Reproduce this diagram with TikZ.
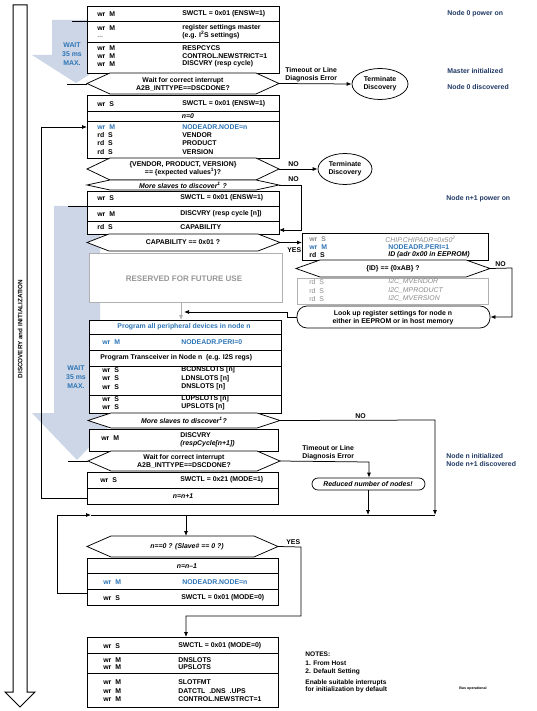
\documentclass[tikz,border=0pt]{standalone}
\usepackage{fontspec}
\setmainfont{Liberation Sans}
\usetikzlibrary{arrows.meta,fit,shapes.geometric}
\definecolor{waitbg}{HTML}{CDD6E6}
\definecolor{tblue}{HTML}{2E75B6}
\definecolor{navy}{HTML}{1F3864}
\definecolor{gtext}{HTML}{8C8C8C}
\definecolor{gline}{HTML}{B0B0B0}
\newcommand{\dfs}{\fontsize{6.9}{8}\selectfont}
\newcommand{\hexa}[6]{%
  \draw[fill=white] (#2,{(#4+#5)/2}) -- (#2+#6,#4) -- (#3-#6,#4) -- (#3,{(#4+#5)/2}) -- (#3-#6,#5) -- (#2+#6,#5) -- cycle;
  \coordinate (#1-w) at (#2,{(#4+#5)/2});
  \coordinate (#1-e) at (#3,{(#4+#5)/2});}
\newcommand{\bxx}[6][]{\node[draw,fill=white,inner sep=0pt,outer sep=0pt,fit={(#3,#4) (#5,#6)},#1] (#2) {};}
\tikzset{
  tx/.style={font=\dfs\bfseries, inner sep=0pt, anchor=west},
  tc/.style={font=\dfs\bfseries, inner sep=0pt, align=center},
  ti/.style={font=\dfs\bfseries\itshape, inner sep=0pt, align=center},
  blu/.style={text=tblue},
  gry/.style={text=gtext},
  lbl/.style={font=\dfs\bfseries, text=navy, inner sep=0pt, anchor=west},
  arr/.style={-{Latex[length=5pt,width=4pt]}},
  wt/.style={font=\fontsize{6.9}{9}\selectfont\bfseries, text=tblue, inner sep=0pt, align=center},
}
\begin{document}
\begin{tikzpicture}[x=1pt,y=-1pt,line width=0.75pt]
\useasboundingbox (0,0) rectangle (536,711);
\fill[white] (0,0) rectangle (536,711);

% wait shading
\fill[waitbg] (52,20) -- (100,20) -- (100,55) -- (120,55) -- (76,83) -- (32,55) -- (52,55) -- cycle;
\fill[waitbg] (54,206) -- (100,206) -- (100,413) -- (122,413) -- (77,460) -- (32,413) -- (54,413) -- cycle;
\node[wt] (wait1) at (72,54) {WAIT\\35 ms\\MAX.};
\node[wt] (wait2) at (76,377) {WAIT\\35 ms\\MAX.};
\draw (72,21) -- (87,21);
\draw (67,84) -- (87,84);
\draw (68,206) -- (87,206);
\draw (68,461) -- (88,461);

% big left arrow
\draw[line width=1pt] (13,5) -- (27,5) -- (27,692) -- (35,692) -- (20,707) -- (5,692) -- (13,692) -- cycle;
\node[font=\fontsize{6.3}{7}\selectfont\bfseries, rotate=90, inner sep=0pt] (disc) at (20,329) {DISCOVERY and INITIALIZATION};

% ---- Box A
\bxx{A}{87}{6}{279}{73}
\draw (87,21) -- (279,21);
\draw (87,42) -- (279,42);
\node[tx] (a1) at (97,14) {wr\ \ M};
\node[tx] (a2) at (182,14) {SWCTL = 0x01 (ENSW=1)};
\node[tx] (a3) at (97,28) {wr\ \ M};
\node[tx,gry] (a3b) at (97,37) {...};
\node[tx] (a4) at (182,28) {register settings master};
\node[tx] (a5) at (182,35.5) {(e.g. I\textsuperscript{2}S settings)};
\node[tx] (a6) at (97,48) {wr\ \ M};
\node[tx] (a7) at (182,48) {RESPCYCS};
\node[tx] (a8) at (97,56) {wr\ \ M};
\node[tx] (a9) at (182,56) {CONTROL.NEWSTRICT=1};
\node[tx] (a10) at (97,64) {wr\ \ M};
\node[tx] (a11) at (182,64) {DISCVRY (resp cycle)};

\hexa{H1}{87}{279}{73}{94}{23}
\node[tc] (h1t) at (183,84) {Wait for correct interrupt\\A2B\_INTTYPE==DSCDONE?};
\node[ellipse,draw,minimum width=56,minimum height=31,inner sep=0pt,font=\dfs\bfseries,align=center] (T1) at (380,84) {Terminate\\Discovery};
\draw[arr] (H1-e) -- (T1.west);
\node[tx,align=left] (to1) at (285,75) {Timeout or Line\\Diagnosis Error};

% right labels
\node[lbl] (l1) at (447,14) {Node 0 power on};
\node[lbl] (l2) at (447,71) {Master initialized};
\node[lbl] (l3) at (447,87) {Node 0 discovered};
\node[lbl] (l4) at (446,199) {Node n+1 power on};
\node[lbl] (l5) at (446,456) {Node n initialized};
\node[lbl] (l6) at (446,464) {Node n+1 discovered};

% ---- Box B
\bxx{B}{87}{95}{279}{158}
\draw (87,111) -- (279,111);
\draw (87,121) -- (279,121);
\node[tx] (b1) at (97,104) {wr\ \ S};
\node[tx] (b2) at (182,104) {SWCTL = 0x01 (ENSW=1)};
\node[ti] (b3) at (188,116) {n=0};
\node[tx,blu] (b4) at (97,127) {wr\ \ M};
\node[tx,blu] (b5) at (182,127) {NODEADR.NODE=n};
\node[tx] (b6) at (97,135.5) {rd\ \ S};
\node[tx] (b7) at (182,135.5) {VENDOR};
\node[tx] (b8) at (97,143.5) {rd\ \ S};
\node[tx] (b9) at (182,143.5) {PRODUCT};
\node[tx] (b10) at (97,152) {rd\ \ S};
\node[tx] (b11) at (182,152) {VERSION};

\hexa{H2}{87}{279}{158}{180}{23}
\node[tc] (h2t) at (183,169) {\{VENDOR, PRODUCT, VERSION\}\\== \{expected values\textsuperscript{1}\}?};
\node[ellipse,draw,minimum width=54,minimum height=31,inner sep=0pt,font=\dfs\bfseries,align=center] (T2) at (345,169) {Terminate\\Discovery};
\draw[arr] (H2-e) -- (T2.west);
\node[tx] (no1) at (288,164) {NO};

\hexa{H3}{87}{279}{180}{190}{23}
\node[ti] (h3t) at (183,185) {More slaves to discover\textsuperscript{1} ?};
\node[tx] (no2) at (288,179) {NO};

% ---- Box C
\bxx{C}{87}{191}{279}{234}
\draw (87,206) -- (279,206);
\draw (87,221) -- (279,221);
\node[tx] (c1) at (97,198) {wr\ \ S};
\node[tx] (c2) at (180,198) {SWCTL = 0x01 (ENSW=1)};
\node[tx] (c3) at (97,214) {wr\ \ M};
\node[tx] (c4) at (180,214) {DISCVRY (resp cycle [n])};
\node[tx] (c5) at (97,227) {rd\ \ S};
\node[tx] (c6) at (180,227) {CAPABILITY};
\coordinate (Cin) at (279,230);
\coordinate (n2a) at (301,185);
\coordinate (n2b) at (301,230);
\draw[arr] (H3-e) -- (n2a) -- (n2b) -- (Cin);

\hexa{H4}{87}{280}{234}{251}{22}
\node[tc] (h4t) at (183,242.5) {CAPABILITY == 0x01 ?};
\node[tx] (yes1) at (287,250) {YES};

% RESERVED
\node[draw=gline,fill=white,inner sep=0pt,fit={(89,253) (282,302)}] (RES) {};
\node[font=\fontsize{8}{9}\selectfont\bfseries,text=gtext!90,inner sep=0pt] (rest) at (184,279) {RESERVED FOR FUTURE USE};

% ---- Right side boxes
\bxx{R1}{302}{233}{488}{260}
\draw[arr] (H4-e) -- (R1.west |- H4-e);
\node[tx,gry] (r1) at (309,239) {wr\ \ S};
\node[tx,gry,font=\dfs\itshape] (r2) at (385,239) {CHIP.CHIPADR=0x50\textsuperscript{2}};
\node[tx,blu] (r3) at (309,247) {wr\ \ M};
\node[tx,blu] (r4) at (388,247) {NODEADR.PERI=1};
\node[tx] (r5) at (309,255) {rd\ \ S};
\node[tx,font=\dfs\bfseries\itshape] (r6) at (388,255) {ID (adr 0x00 in EEPROM)};

\hexa{H5}{296}{490}{260}{277}{24}
\node[tc] (h5t) at (393,269) {\{ID\} == \{0xAB\} ?};
\node[tx] (no3) at (495,264) {NO};

\node[draw=gline,fill=white,inner sep=0pt,fit={(297,278) (488,304)}] (R2) {};
\node[tx,gry,font=\dfs] (q1) at (309,282) {rd\ \ S};
\node[tx,gry,font=\dfs\itshape] (q2) at (388,282) {I2C\_MVENDOR};
\node[tx,gry,font=\dfs] (q3) at (309,291) {rd\ \ S};
\node[tx,gry,font=\dfs\itshape] (q4) at (388,291) {I2C\_MPRODUCT};
\node[tx,gry,font=\dfs] (q5) at (309,299) {rd\ \ S};
\node[tx,gry,font=\dfs\itshape] (q6) at (388,299) {I2C\_MVERSION};

\node[draw,fill=white,rounded corners=10pt,inner sep=0pt,fit={(297,306) (490,328)}] (R3) {};
\node[tc] (r3t) at (393,317.5) {Look up register settings for node n\\either in EEPROM or in host memory};
\coordinate (n3a) at (512,268);
\coordinate (n3b) at (512,317);
\draw[arr] (H5-e) -- (n3a) -- (n3b) -- (R3.east |- n3b);
\coordinate (k1) at (287,317);
\coordinate (k2) at (287,312);
\coordinate (k3) at (184,312);
\draw[arr] (R3.west |- k1) -- (k1) -- (k2) -- (k3);

% gray arrow
\coordinate (g1) at (181,302);
\coordinate (g2) at (181,320);
\draw[arr,draw=gline] (g1) -- (g2);

% ---- Program box
\bxx{P}{89}{320}{281}{413}
\draw (89,334) -- (281,334);
\draw (89,350) -- (281,350);
\draw (89,366) -- (281,366);
\draw (89,395) -- (281,395);
\node[tc,blu] (p1) at (184,327) {Program all peripheral devices in node n};
\node[tx,blu] (p2) at (102,342) {wr\ \ M};
\node[tx,blu] (p3) at (181,342) {NODEADR.PERI=0};
\node[tx] (p4) at (100,358) {Program Transceiver in Node n\ \ (e.g. I2S regs)};
\node[tx] (p5) at (102,370) {wr\ \ S};
\node[tx] (p6) at (181,370) {BCDNSLOTS [n]};
\node[tx] (p7) at (102,378.5) {wr\ \ S};
\node[tx] (p8) at (181,378.5) {LDNSLOTS [n]};
\node[tx] (p9) at (102,387) {wr\ \ S};
\node[tx] (p10) at (181,387) {DNSLOTS [n]};
\node[tx] (p11) at (102,399) {wr\ \ S};
\node[tx] (p12) at (181,399) {LUPSLOTS [n]};
\node[tx] (p13) at (102,407) {wr\ \ S};
\node[tx] (p14) at (181,407) {UPSLOTS [n]};

\hexa{H6}{88}{280}{413}{428}{23}
\node[ti] (h6t) at (184,420) {More slaves to discover\textsuperscript{1}?};
\node[tx] (no4) at (355,416) {NO};

% ---- Box D
\bxx{D}{89}{429}{278}{451}
\node[tx] (d1) at (101,438) {wr\ \ M};
\node[tx] (d2) at (180,435) {DISCVRY};
\node[tx,font=\dfs\bfseries\itshape] (d3) at (180,444) {(respCycle[n+1])};

\hexa{H7}{88}{280}{451}{471}{23}
\node[tc] (h7t) at (184,461.5) {Wait for correct interrupt\\A2B\_INTTYPE==DSCDONE?};
\node[tx,align=left] (to2) at (302,453) {Timeout or Line\\Diagnosis Error};

\node[draw,fill=white,rounded corners=6pt,inner sep=0pt,fit={(312,478) (425,490)}] (RED) {};
\node[ti] (redt) at (368,484) {Reduced number of nodes!};
\coordinate (m1) at (369,462);
\draw[arr] (H7-e) -- (m1) -- (RED.north -| m1);

% ---- Box E
\bxx{E}{87}{472}{278}{504}
\draw (87,488) -- (278,488);
\node[tx] (e1) at (100,480) {wr\ \ S};
\node[tx] (e2) at (180,480) {SWCTL = 0x21 (MODE=1)};
\node[ti] (e3) at (183,496) {n=n+1};

% loop back to NODEADR
\coordinate (lp1) at (87,498);
\coordinate (lp2) at (41,498);
\coordinate (lp3) at (41,127);
\coordinate (lp4) at (87,127);
\draw[arr] (lp1) -- (lp2) -- (lp3) -- (lp4);

% join line
\coordinate (j0) at (57,515);
\coordinate (j1) at (91,515);
\coordinate (j2) at (435,515);
\coordinate (j3) at (186,515);
\coordinate (jr) at (368,515);
\coordinate (n4a) at (435,420);
\coordinate (h8top) at (186,536);
\draw[arr] (H6-e) -- (n4a) -- (j2);
\draw[arr] (RED.south -| jr) -- (jr);
\draw (j1) -- (j2);

\hexa{H8}{87}{278}{536}{557}{24}
\node[ti] (h8t) at (187,547) {n==0 ? (Slave\# == 0 ?)};
\node[tx] (yes2) at (286,542) {YES};
\draw[arr] (j3) -- (h8top);

% ---- Box F
\bxx{F}{87}{558}{278}{605}
\draw (87,573) -- (278,573);
\draw (87,589) -- (278,589);
\node[ti] (f1) at (187,566) {n=n\textendash 1};
\node[tx,blu] (f2) at (103,582) {wr\ \ M};
\node[tx,blu] (f3) at (182,582) {NODEADR.NODE=n};
\node[tx] (f4) at (103,598) {wr\ \ S};
\node[tx] (f5) at (181,598) {SWCTL = 0x01 (MODE=0)};
\coordinate (s1) at (87,593);
\coordinate (s2) at (57,593);
\draw[arr] (s1) -- (s2) -- (j0) -- (j1);

% ---- Box G
\bxx{G}{87}{637}{278}{707}
\draw (87,653) -- (278,653);
\draw (87,673) -- (278,673);
\node[tx] (g1t) at (103,646) {wr\ \ S};
\node[tx] (g2t) at (178,646) {SWCTL = 0x01 (MODE=0)};
\node[tx] (g3t) at (103,660) {wr\ \ M};
\node[tx] (g4t) at (178,660) {DNSLOTS};
\node[tx] (g5t) at (103,667.5) {wr\ \ M};
\node[tx] (g6t) at (178,667.5) {UPSLOTS};
\node[tx] (g7t) at (103,682) {wr\ \ M};
\node[tx] (g8t) at (178,682) {SLOTFMT};
\node[tx] (g9t) at (103,691) {wr\ \ M};
\node[tx] (g10t) at (178,691) {DATCTL\ \ .DNS\ \ .UPS};
\node[tx] (g11t) at (103,699.5) {wr\ \ M};
\node[tx] (g12t) at (178,699.5) {CONTROL.NEWSTRCT=1};

\coordinate (y1) at (301,547);
\coordinate (y2) at (301,616);
\coordinate (y3) at (186,616);
\draw[arr] (H8-e) -- (y1) -- (y2) -- (y3) -- (G.north -| y3);

% notes
\node[tx,align=left,font=\fontsize{6.6}{8.5}\selectfont\bfseries] (notes) at (305,663.5) {NOTES:\\1. From Host\\2. Default Setting};
\node[tx,align=left,font=\fontsize{6.6}{6.8}\selectfont\bfseries] (notes2) at (305,686) {Enable suitable interrupts\\for initialization by default};
\node[tx,font=\fontsize{3.6}{4}\selectfont\bfseries] (busop) at (459,689) {Bus operational};
\end{tikzpicture}
\end{document}
